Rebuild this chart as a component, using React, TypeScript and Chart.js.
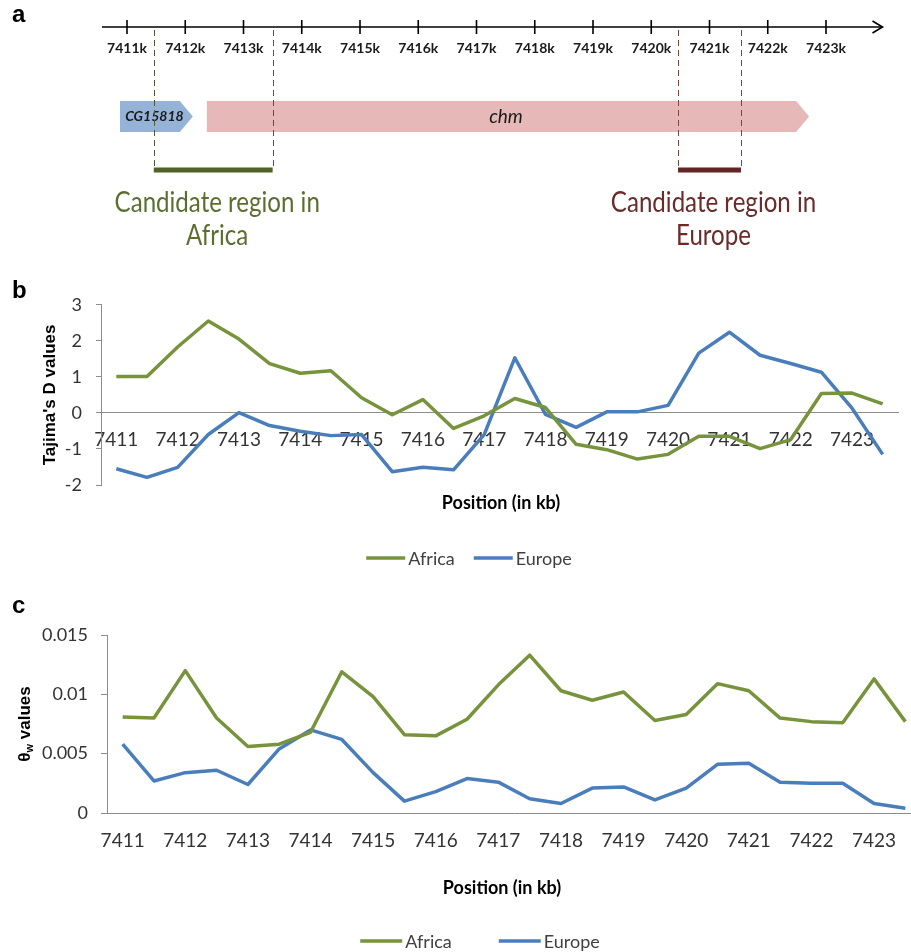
import React, { useEffect, useRef } from 'react';
import { Chart, registerables } from 'chart.js';

Chart.register(...registerables);

// ---------- data ----------
const positionsKb = [
  7411, 7411.5, 7412, 7412.5, 7413, 7413.5, 7414, 7414.5, 7415, 7415.5, 7416, 7416.5, 7417,
  7417.5, 7418, 7418.5, 7419, 7419.5, 7420, 7420.5, 7421, 7421.5, 7422, 7422.5, 7423, 7423.5,
];
const seriesNames = ['Africa', 'Europe'];
const seriesColors = ['#77933C', '#4A7EBB'];

const tajimaAfrica = [
  1.01, 1.01, 1.83, 2.55, 2.05, 1.37, 1.1, 1.17, 0.42, -0.05, 0.37, -0.43, -0.08,
  0.4, 0.15, -0.87, -1.02, -1.28, -1.15, -0.65, -0.65, -0.99, -0.74, 0.54, 0.55, 0.25,
];
const tajimaEurope = [
  -1.55, -1.79, -1.51, -0.6, 0.01, -0.35, -0.51, -0.63, -0.6, -1.63, -1.51, -1.58, -0.6,
  1.53, -0.04, -0.4, 0.03, 0.03, 0.21, 1.66, 2.24, 1.6, 1.37, 1.13, 0.13, -1.15,
];
const thetaAfrica = [
  0.0081, 0.008, 0.012, 0.008, 0.0056, 0.0058, 0.0068, 0.0119, 0.0098, 0.0066, 0.0065, 0.0079, 0.0108,
  0.0133, 0.0103, 0.0095, 0.0102, 0.0078, 0.0083, 0.0109, 0.0103, 0.008, 0.0077, 0.0076, 0.0113, 0.0077,
];
const thetaEurope = [
  0.0058, 0.0027, 0.0034, 0.0036, 0.0024, 0.0054, 0.007, 0.0062, 0.0034, 0.001, 0.0018, 0.0029, 0.0026,
  0.0012, 0.0008, 0.0021, 0.0022, 0.0011, 0.0021, 0.0041, 0.0042, 0.0026, 0.0025, 0.0025, 0.0008, 0.0004,
];

// gene map (panel a)
const mapTicksKb = [7411, 7412, 7413, 7414, 7415, 7416, 7417, 7418, 7419, 7420, 7421, 7422, 7423];
const mapAxisKb = [7410.57, 7423.97];
const geneNames = ['CG15818', 'chm'];
const geneStartKb = [7410.88, 7412.37];
const geneEndKb = [7412.13, 7422.71];
const geneColors = ['#95B3D7', '#E6B9B8'];
const regionLines = [
  ['Candidate region in', 'Africa'],
  ['Candidate region in', 'Europe'],
];
const regionStartKb = [7411.46, 7420.46];
const regionEndKb = [7413.5, 7421.54];
const regionColors = ['#4F6228', '#632523'];
const regionTextColors = ['#5B6E30', '#6A2B29'];
const regionDashColors = ['#4E573A', '#7A4644'];

// ---------- plugins ----------
const geneMapPlugin = {
  id: 'geneMap',
  afterDraw(chart: any) {
    const ctx = chart.ctx as CanvasRenderingContext2D;
    const xs = chart.scales.x;
    const px = (v: number) => xs.getPixelForValue(v);
    const axisY = 27;
    ctx.save();
    // genes
    const gTop = 101;
    const gBot = 132;
    const head = 13;
    geneNames.forEach((name, i) => {
      const x0 = px(geneStartKb[i]);
      const x1 = px(geneEndKb[i]);
      ctx.fillStyle = geneColors[i];
      ctx.beginPath();
      ctx.moveTo(x0, gTop);
      ctx.lineTo(x1 - head, gTop);
      ctx.lineTo(x1, (gTop + gBot) / 2);
      ctx.lineTo(x1 - head, gBot);
      ctx.lineTo(x0, gBot);
      ctx.closePath();
      ctx.fill();
      ctx.fillStyle = '#1A1A1A';
      ctx.textAlign = 'center';
      ctx.textBaseline = 'middle';
      ctx.font = i === 0 ? 'italic bold 14px Lato' : 'italic 19px Lato';
      ctx.fillText(name, (x0 + x1) / 2 - 2, (gTop + gBot) / 2);
    });
    // axis
    ctx.strokeStyle = '#000';
    ctx.lineWidth = 1.6;
    ctx.beginPath();
    ctx.moveTo(px(mapAxisKb[0]), axisY);
    ctx.lineTo(px(mapAxisKb[1]), axisY);
    ctx.stroke();
    const tip = px(mapAxisKb[1]);
    ctx.beginPath();
    ctx.moveTo(tip - 10, axisY - 6);
    ctx.lineTo(tip, axisY);
    ctx.lineTo(tip - 10, axisY + 6);
    ctx.stroke();
    ctx.font = 'bold 14px Lato';
    ctx.fillStyle = '#1A1A1A';
    ctx.textAlign = 'center';
    ctx.textBaseline = 'middle';
    mapTicksKb.forEach((t) => {
      const x = px(t);
      ctx.beginPath();
      ctx.moveTo(x, axisY - 7);
      ctx.lineTo(x, axisY + 7);
      ctx.stroke();
      ctx.fillText(`${t}k`, x, 48);
    });
    // candidate regions
    regionLines.forEach((lines, i) => {
      const x0 = px(regionStartKb[i]);
      const x1 = px(regionEndKb[i]);
      ctx.setLineDash([6, 4]);
      ctx.strokeStyle = regionDashColors[i];
      ctx.lineWidth = 1;
      [x0, x1].forEach((x) => {
        ctx.beginPath();
        ctx.moveTo(Math.round(x) + 0.5, axisY + 3);
        ctx.lineTo(Math.round(x) + 0.5, 167);
        ctx.stroke();
      });
      ctx.setLineDash([]);
      ctx.fillStyle = regionColors[i];
      ctx.fillRect(x0, 167.5, x1 - x0, 5);
      ctx.fillStyle = regionTextColors[i];
      ctx.font = '28px Lato';
      ctx.textAlign = 'center';
      ctx.textBaseline = 'alphabetic';
      const cx = (x0 + x1) / 2 + 4;
      lines.forEach((ln, k) => {
        ctx.save();
        ctx.translate(cx, 212 + k * 33);
        ctx.scale(0.86, 1);
        ctx.fillText(ln, 0, 0);
        ctx.restore();
      });
    });
    ctx.fillStyle = '#000';
    ctx.textAlign = 'left';
    ctx.font = 'bold 24px "Liberation Sans"';
    ctx.fillText('a', 12, 22);
    ctx.restore();
  },
};

type DecorOpts = {
  panel: string;
  panelBaseline: number;
  xTitle: string;
  xTitleX: number;
  xTitleY: number;
  legendY: number;
  legendCenterX: number;
  legendLine: number;
  legendSpacing: number;
  thetaTitleX?: number;
};

function makeDecor(o: DecorOpts) {
  return {
    id: 'decor',
    afterDraw(chart: any) {
      const ctx = chart.ctx as CanvasRenderingContext2D;
      ctx.save();
      ctx.fillStyle = '#000';
      ctx.textAlign = 'left';
      ctx.textBaseline = 'alphabetic';
      ctx.font = 'bold 24px "Liberation Sans"';
      ctx.fillText(o.panel, 12, o.panelBaseline);
      // x title
      ctx.font = 'bold 18px Lato';
      ctx.textAlign = 'center';
      ctx.textBaseline = 'middle';
      ctx.fillStyle = '#000';
      ctx.fillText(o.xTitle, o.xTitleX, o.xTitleY);
      // legend
      ctx.font = '18px Lato';
      const items = chart.data.datasets.map((d: any) => ({
        label: d.label as string,
        color: d.borderColor as string,
        w: ctx.measureText(d.label).width,
      }));
      const total =
        items.reduce((s: number, it: any) => s + o.legendLine + 3 + it.w, 0) +
        o.legendSpacing * (items.length - 1);
      let x = o.legendCenterX - total / 2;
      ctx.textAlign = 'left';
      items.forEach((it: any) => {
        ctx.strokeStyle = it.color;
        ctx.lineWidth = 3.5;
        ctx.beginPath();
        ctx.moveTo(x, o.legendY);
        ctx.lineTo(x + o.legendLine, o.legendY);
        ctx.stroke();
        x += o.legendLine + 3;
        ctx.fillStyle = '#404040';
        ctx.fillText(it.label, x, o.legendY + 1);
        x += it.w + o.legendSpacing;
      });
      // theta y title
      if (o.thetaTitleX !== undefined) {
        const ca = chart.chartArea;
        const cy = (ca.top + ca.bottom) / 2;
        const big = 'bold 17px "Liberation Sans"';
        const small = 'bold 11px "Liberation Sans"';
        ctx.font = big;
        const w1 = ctx.measureText('θ').width;
        const w3 = ctx.measureText(' values').width;
        ctx.font = small;
        const w2 = ctx.measureText('w').width;
        const tw = w1 + w2 + w3;
        ctx.translate(o.thetaTitleX, cy);
        ctx.rotate(-Math.PI / 2);
        ctx.fillStyle = '#000';
        ctx.textAlign = 'left';
        ctx.textBaseline = 'middle';
        let tx = -tw / 2;
        ctx.font = big;
        ctx.fillText('θ', tx, 0);
        tx += w1;
        ctx.font = small;
        ctx.fillText('w', tx, 5);
        tx += w2;
        ctx.font = big;
        ctx.fillText(' values', tx, 0);
      }
      ctx.restore();
    },
  };
}

// ---------- configs ----------
const AXIS_GRAY = '#8C8C8C';
const TICK_COLOR = '#333333';

function datasets(a: number[], e: number[]) {
  return [a, e].map((d, i) => ({
    label: seriesNames[i],
    data: d,
    borderColor: seriesColors[i],
    backgroundColor: seriesColors[i],
    borderWidth: 3.5,
    pointRadius: 0,
    tension: 0,
    borderJoinStyle: 'round' as const,
  }));
}

const xTickCallback = (_v: any, i: number) =>
  Number.isInteger(positionsKb[i]) ? String(positionsKb[i]) : '';

function xAxis(): any {
  return {
    type: 'category',
    position: { y: 0 },
    offset: true,
    afterFit: (s: any) => {
      s.height = 0;
    },
    grid: { display: true, drawOnChartArea: false, drawTicks: false },
    border: { display: true, color: AXIS_GRAY, width: 1 },
    ticks: {
      autoSkip: false,
      maxRotation: 0,
      minRotation: 0,
      padding: 16,
      font: { family: 'Lato', size: 19 },
      color: TICK_COLOR,
      callback: xTickCallback,
    },
  };
}

function mapConfig(): any {
  return {
    type: 'scatter',
    data: { datasets: [] },
    options: {
      animation: false,
      responsive: false,
      devicePixelRatio: 1,
      layout: { padding: { left: 127, right: 85, top: 0, bottom: 0 } },
      plugins: { legend: { display: false }, tooltip: { enabled: false } },
      scales: {
        x: { type: 'linear', min: 7411, max: 7423, display: false },
        y: { display: false },
      },
    },
    plugins: [geneMapPlugin],
  };
}

function tajimaConfig(): any {
  return {
    type: 'line',
    data: { labels: positionsKb.map(String), datasets: datasets(tajimaAfrica, tajimaEurope) },
    options: {
      animation: false,
      responsive: false,
      devicePixelRatio: 1,
      layout: { padding: { left: 0, top: 22, right: 13, bottom: 95 } },
      plugins: { legend: { display: false }, tooltip: { enabled: false } },
      scales: {
        x: xAxis(),
        y: {
          min: -2,
          max: 3,
          afterFit: (s: any) => {
            s.width = 101;
          },
          ticks: {
            stepSize: 1,
            padding: 14,
            font: { family: 'Lato', size: 18 },
            color: TICK_COLOR,
            callback: (v: any) => String(v),
          },
          grid: { drawOnChartArea: false, tickLength: 5, color: AXIS_GRAY },
          border: { color: AXIS_GRAY },
          title: {
            display: true,
            text: "Tajima's D values",
            font: { family: 'Liberation Sans', weight: 'bold', size: 17 },
            color: '#000',
            padding: { top: 40, bottom: 0 },
          },
        },
      },
    },
    plugins: [
      makeDecor({
        panel: 'b',
        panelBaseline: 18,
        xTitle: 'Position (in kb)',
        xTitleX: 501,
        xTitleY: 223,
        legendY: 278,
        legendCenterX: 469,
        legendLine: 39,
        legendSpacing: 19,
      }),
    ],
  };
}

function thetaConfig(): any {
  return {
    type: 'line',
    data: { labels: positionsKb.map(String), datasets: datasets(thetaAfrica, thetaEurope) },
    options: {
      animation: false,
      responsive: false,
      devicePixelRatio: 1,
      layout: { padding: { left: 0, top: 55, right: 4, bottom: 139 } },
      plugins: { legend: { display: false }, tooltip: { enabled: false } },
      scales: {
        x: xAxis(),
        y: {
          min: 0,
          max: 0.015,
          afterFit: (s: any) => {
            s.width = 107;
          },
          ticks: {
            stepSize: 0.005,
            padding: 13,
            font: { family: 'Lato', size: 18 },
            color: TICK_COLOR,
            callback: (v: any) => String(parseFloat(Number(v).toFixed(4))),
          },
          grid: { drawOnChartArea: false, tickLength: 6, color: AXIS_GRAY },
          border: { color: AXIS_GRAY },
        },
      },
    },
    plugins: [
      makeDecor({
        panel: 'c',
        panelBaseline: 33,
        xTitle: 'Position (in kb)',
        xTitleX: 502,
        xTitleY: 308,
        legendY: 361,
        legendCenterX: 480,
        legendLine: 42,
        legendSpacing: 47,
        thetaTitleX: 25,
      }),
    ],
  };
}

function ChartCanvas({ top, width, height, build }: { top: number; width: number; height: number; build: () => any }) {
  const ref = useRef<HTMLCanvasElement>(null);
  useEffect(() => {
    const chart = new Chart(ref.current as HTMLCanvasElement, build());
    return () => chart.destroy();
  }, []);
  return (
    <canvas
      ref={ref}
      width={width}
      height={height}
      style={{ position: 'absolute', left: 0, top, width, height, display: 'block' }}
    />
  );
}

export default function App() {
  return (
    <div
      style={{
        position: 'absolute',
        left: 0,
        top: 0,
        width: 911,
        height: 952,
        overflow: 'hidden',
        background: '#ffffff',
      }}
    >
      <ChartCanvas top={0} width={911} height={280} build={mapConfig} />
      <ChartCanvas top={280} width={911} height={300} build={tajimaConfig} />
      <ChartCanvas top={580} width={925} height={372} build={thetaConfig} />
    </div>
  );
}
